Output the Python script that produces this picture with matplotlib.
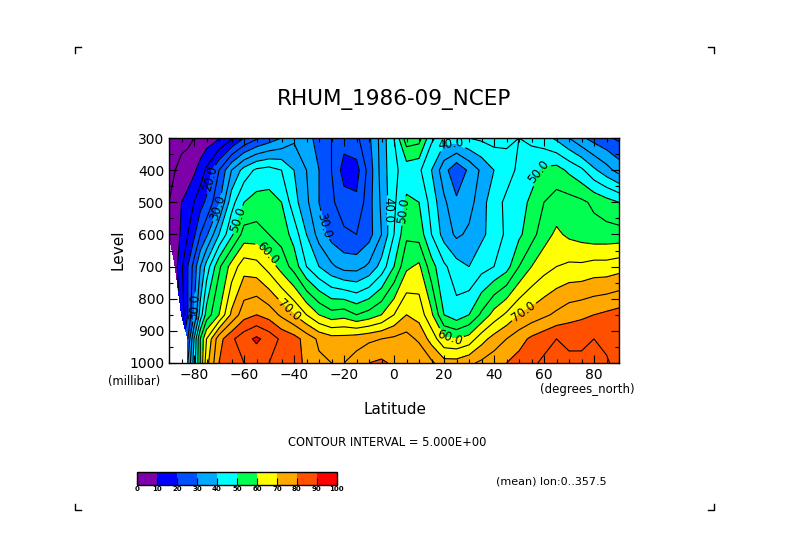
import numpy as np
import matplotlib
matplotlib.use("Agg")
import matplotlib.pyplot as plt
import matplotlib.ticker as ticker
from matplotlib.colors import ListedColormap, BoundaryNorm
from matplotlib.lines import Line2D

# latitude columns (degrees_north) and pressure levels (millibar)
lats = [-90, -87.5, -85, -82.5, -80, -77.5, -75, -70, -65, -60, -55, -50, -45, -40,
        -35, -30, -25, -20, -15, -10, -5, 0, 5, 10, 15, 20, 25, 30, 35, 40, 45,
        50, 55, 60, 65, 70, 75, 80, 85, 90]
levels = [1000, 925, 850, 700, 600, 500, 400, 300]

nan = np.nan
# relative humidity (%), one list per level
rh_1000 = [nan, nan, nan, 30, 42, 55, 68, 80, 84, 85, 86, 85, 84, 82, 79, 76, 75, 75, 77, 80,
           81, 79, 78, 80, 76, 72, 72, 74, 76, 78, 80, 82, 84, 86, 88, 86, 86, 87, 86, 82]
rh_925 = [nan, nan, nan, 25, 40, 55, 65, 78, 84, 88, 91, 88, 84, 82, 78, 74, 72, 72, 73, 74,
          75, 76, 77, 74, 68, 61, 60, 62, 68, 72, 75, 78, 81, 83, 85, 84, 84, 85, 83, 80]
rh_850 = [nan, nan, 12, 20, 30, 42, 52, 60, 71, 78, 80, 78, 74, 70, 65, 60, 57, 58, 55, 57,
          60, 65, 70, 68, 61, 50, 47, 50, 56, 62, 66, 70, 72, 74, 76, 78, 79, 80, 81, 82]
rh_700 = [nan, 8, 14, 20, 27, 35, 42, 54, 62, 68, 67, 63, 58, 53, 45, 40, 36, 33, 33, 36,
          42, 50, 59, 61, 52, 46, 42, 40, 43, 45, 48, 55, 60, 63, 65, 66, 66, 67, 67, 68]
rh_600 = [6, 7, 11, 15, 19, 25, 29, 40, 49, 57, 57, 55, 53, 48, 40, 33, 28, 26, 25, 28,
          35, 45, 54, 53, 45, 38, 34, 36, 39, 42, 46, 49, 53, 58, 61, 59, 58, 57, 57, 57]
rh_500 = [5, 7, 10, 12, 15, 18, 21, 29, 43, 50, 52, 52, 50, 42, 36, 30, 26, 22, 21, 28,
          36, 44, 51, 50, 43, 36, 31, 33, 38, 43, 46, 48, 51, 55, 57, 57, 56, 54, 52, 50]
rh_400 = [4, 5, 6, 7, 9, 12, 16, 25, 35, 42, 46, 47, 45, 40, 35, 30, 25, 18, 18, 27,
          37, 44, 47, 46, 40, 32, 26, 31, 36, 40, 43, 46, 48, 51, 52, 49, 46, 41, 37, 33]
rh_300 = [3, 3, 4, 4, 5, 6, 7, 9.5, 14, 20, 24, 27, 30, 34, 32, 28, 25, 22, 24, 29,
          37, 45, 58, 57, 46, 42, 43, 45, 46, 47, 46, 45, 44, 42, 39, 35, 31, 28, 26, 24]

rhum = np.ma.masked_invalid(np.array([rh_1000, rh_925, rh_850, rh_700,
                                      rh_600, rh_500, rh_400, rh_300], dtype=float))

fill_levels = list(range(0, 101, 10))
labelled_levels = [20, 30, 40, 50, 60, 70]
plain_levels = [v for v in range(5, 100, 5) if v not in labelled_levels]
colors = ["#7d00a8", "#0000ff", "#0050ff", "#00a8ff", "#00ffff",
          "#00ff50", "#ffff00", "#ffa800", "#ff5000", "#ff0000"]

# where the contour labels sit (lat, level)
label_spots = [(-75, 425), (-79, 825), (-69, 520), (-62, 555), (-52, 670), (-44, 850),
               (-27, 570), (-3.5, 525), (7, 530), (23, 337), (57.5, 405), (22.5, 903),
               (53.5, 860)]

W, H = 789, 558
fig = plt.figure(figsize=(W / 100, H / 100), dpi=100)
ax = fig.add_axes([169 / W, 1 - 363 / H, 450 / W, 225 / H])

cmap = ListedColormap(colors)
norm = BoundaryNorm(fill_levels, cmap.N)
ax.contourf(lats, levels, rhum, levels=fill_levels, cmap=cmap, norm=norm)
ax.contour(lats, levels, rhum, levels=plain_levels, colors="black", linewidths=0.8)
cs = ax.contour(lats, levels, rhum, levels=labelled_levels, colors="black", linewidths=0.8)
ax.set_xlim(-90, 90)
ax.set_ylim(1000, 300)
ax.clabel(cs, fmt="%.1f", fontsize=8.5, inline=True, inline_spacing=2, manual=label_spots)

ax.set_xticks(range(-80, 81, 20))
ax.set_yticks(range(300, 1001, 100))
ax.xaxis.set_minor_locator(ticker.MultipleLocator(5))
ax.yaxis.set_minor_locator(ticker.MultipleLocator(50))
ax.tick_params(which="both", direction="in", top=True, right=True, labelsize=10, width=0.8)
ax.tick_params(which="major", length=6)
ax.tick_params(which="minor", length=3)
for s in ax.spines.values():
    s.set_linewidth(1.0)

# labels and annotations
fig.text(394 / W, 1 - 100 / H, "RHUM_1986-09_NCEP", ha="center", va="center", fontsize=15.5)
fig.text(118 / W, 1 - 250 / H, "Level", rotation=90, ha="center", va="center", fontsize=11)
fig.text(395 / W, 1 - 410 / H, "Latitude", ha="center", va="center", fontsize=11)
fig.text(134 / W, 1 - 382 / H, "(millibar)", ha="center", va="center", fontsize=8.3)
fig.text(635 / W, 1 - 390 / H, "(degrees_north)", ha="right", va="center", fontsize=8.5)
fig.text(387 / W, 1 - 443 / H, "CONTOUR INTERVAL = 5.000E+00", ha="center", va="center", fontsize=8.3)
fig.text(607 / W, 1 - 482 / H, "(mean) lon:0..357.5", ha="right", va="center", fontsize=8)

# colour key
cax = fig.add_axes([137 / W, 1 - 485 / H, 200 / W, 13 / H])
cb = fig.colorbar(matplotlib.cm.ScalarMappable(norm=norm, cmap=cmap), cax=cax,
                  orientation="horizontal", ticks=fill_levels)
cb.outline.set_linewidth(1.0)
cax.tick_params(direction="in", length=5, width=0.8, labelsize=5, pad=1)
for t in cax.get_xticklabels():
    t.set_fontweight("bold")

# corner crop marks
def corner(x, y, dx, dy):
    fig.add_artist(Line2D([x / W, x / W, (x + dx) / W], [1 - (y + dy) / H, 1 - y / H, 1 - y / H],
                          color="black", linewidth=1.0))

corner(75, 47, 6, 6)
corner(714, 47, -6, 6)
corner(75, 510, 6, -6)
corner(714, 510, -6, -6)

fig.savefig("out.png", dpi=100)
